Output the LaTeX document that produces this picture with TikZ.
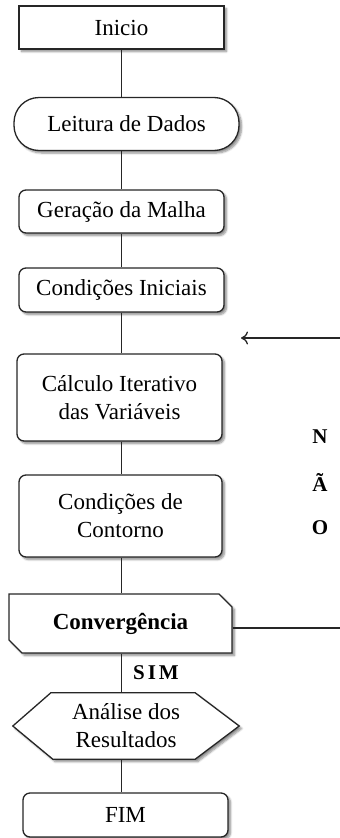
\documentclass[tikz,border=0pt]{standalone}
\usepackage{fontspec}
\setmainfont{Liberation Serif}
\usetikzlibrary{arrows.meta,shapes.misc,shadows.blur,calc}
\begin{document}
\begin{tikzpicture}[x=1pt,y=-1pt,
  every node/.style={font=\fontsize{23}{28}\selectfont},
  shad/.style={blur shadow={shadow xshift=2.5pt,shadow yshift=-2.5pt,shadow blur steps=6,shadow blur radius=2pt,shadow opacity=45}},
  boxsq/.style={draw=black!85,line width=1.3pt,fill=white,rectangle,shad,inner sep=2pt},
  boxr/.style={boxsq,rounded corners=7pt},
  conn/.style={draw=black!85,line width=1.3pt},
  lbl/.style={font=\fontsize{21}{24}\selectfont\bfseries}
]
\useasboundingbox (0,0) rectangle (340,838);
\coordinate (axis) at (121.5,0);

\node[boxsq,minimum width=205pt,minimum height=43pt] (ini) at (121.5,27.5) {Inicio};
\node[boxsq,rounded corners=25pt,minimum width=225pt,minimum height=53pt] (lei) at (126.5,124) {Leitura de Dados};
\node[boxr,minimum width=205pt,minimum height=43pt] (ger) at (121.5,211.5) {Geração da Malha};
\node[boxr,minimum width=205pt,minimum height=44pt] (cin) at (121.5,290) {Condições Iniciais};
\node[boxr,minimum width=205pt,minimum height=87pt,align=center] (calc) at (119.5,397.5) {Cálculo Iterativo\\das Variáveis};
\node[boxr,minimum width=203pt,minimum height=82pt,align=center] (cont) at (120.5,516) {Condições de\\Contorno};
\node[boxsq,chamfered rectangle,chamfered rectangle corners={north east,south west},
      chamfered rectangle xsep=4pt,chamfered rectangle ysep=9pt,
      minimum width=223pt,minimum height=59pt,font=\fontsize{23}{28}\selectfont\bfseries] (conv) at (120.5,623.5) {Convergência};

% hexagon
\node[minimum width=226pt,minimum height=66pt,align=center,inner sep=0pt] (ana) at (126,726) {};
\filldraw[draw=black!85,line width=1.3pt,fill=white,shad]
  (ana.west) -- ($(ana.north west)+(38,0)$) -- ($(ana.north east)+(-44,0)$) -- (ana.east)
  -- ($(ana.south east)+(-44,0)$) -- ($(ana.south west)+(40,0)$) -- cycle;
\node[align=center] (anatext) at (ana.center) {Análise dos\\Resultados};

\node[boxr,minimum width=205pt,minimum height=44pt] (fim) at (125.5,815) {FIM};

% connectors
\draw[conn] (axis |- ini.south) -- (axis |- lei.north);
\draw[conn] (axis |- lei.south) -- (axis |- ger.north);
\draw[conn] (axis |- ger.south) -- (axis |- cin.north);
\draw[conn] (axis |- cin.south) -- (axis |- calc.north);
\draw[conn] (axis |- calc.south) -- (axis |- cont.north);
\draw[conn] (axis |- cont.south) -- (axis |- conv.north);
\draw[conn] (axis |- conv.south) -- (axis |- ana.north);
\draw[conn] (axis |- ana.south) -- (axis |- fim.north);

\coordinate (loopR) at (340,628);
\coordinate (retR) at (340,338);
\coordinate (retT) at (241,338);
\draw[conn] (conv.east |- loopR) -- (loopR);
\draw[conn,-{To[length=7pt,width=13pt]}] (retR) -- (retT);

\node[lbl] (sim) at (156,673) {S\hspace{3pt}I\hspace{3pt}M};
\node[lbl] (n1) at (320,437) {N};
\node[lbl] (n2) at (320,482) {Ã};
\node[lbl] (n3) at (320,528) {O};
\end{tikzpicture}
\end{document}
